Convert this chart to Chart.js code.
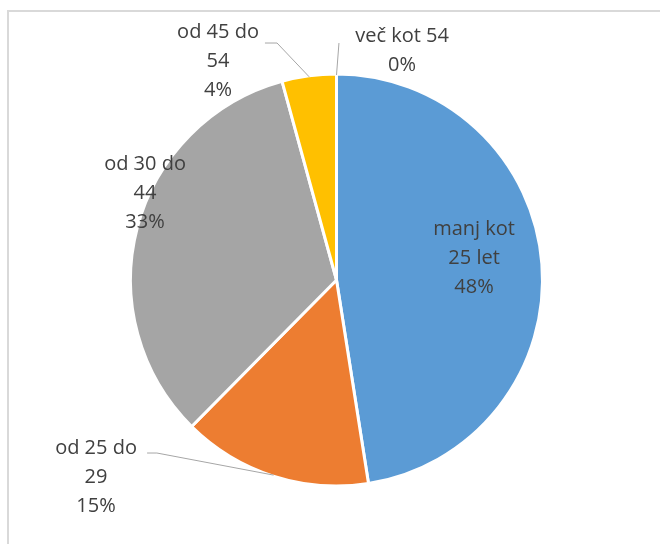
<!DOCTYPE html>
<html>
<head>
<meta charset="utf-8">
<script src="https://cdn.jsdelivr.net/npm/chart.js@4.4.0/dist/chart.umd.min.js"></script>
<style>
  html, body { margin: 0; padding: 0; background: #fff; }
  #wrap { position: relative; width: 660px; height: 544px; overflow: hidden; }
  #frame {
    position: absolute; left: 7px; top: 10px; width: 700px; height: 600px;
    border-top: 2px solid #d9d9d9; border-left: 2px solid #d9d9d9;
    pointer-events: none;
  }
  canvas { position: absolute; left: 0; top: 0; }
</style>
</head>
<body>
<div id="wrap">
  <canvas id="pie" width="660" height="544"></canvas>
  <div id="frame"></div>
</div>
<script>
// === Data ===
const CATEGORY_LINES = [
  ["manj kot", "25 let"],
  ["od 25 do", "29"],
  ["od 30 do", "44"],
  ["od 45 do", "54"],
  ["več kot 54"]
];
const CATEGORIES = CATEGORY_LINES.map((l) => l.join(" "));
const VALUES = [67, 21, 47, 6, 0];
const COLORS = ["#5b9bd5", "#ed7d31", "#a5a5a5", "#ffc000", "#4472c4"];

// label placement, in units of the pie radius, measured from the pie centre
// elbow/end describe the leader line for labels outside the pie
const LABEL_POS = [
  { lx: 0.671, ly: -0.107 },
  { lx: -1.173, ly: 0.961, elbow: [-0.876, 0.844], end: [-0.924, 0.844] },
  { lx: -0.934, ly: -0.424 },
  { lx: -0.578, ly: -1.068, elbow: [-0.290, -1.156], end: [-0.349, -1.156] },
  { lx: 0.320, ly: -1.117, elbow: [0.012, -1.156], end: [0.012, -1.156] }
];

// === Slice labels with leader lines ===
const sliceLabels = {
  id: "sliceLabels",
  afterDatasetsDraw(chart) {
    const ctx = chart.ctx;
    const arcs = chart.getDatasetMeta(0).data;
    const total = VALUES.reduce((a, b) => a + b, 0);
    ctx.save();
    ctx.font = "20px 'Open Sans'";
    ctx.textAlign = "center";
    ctx.textBaseline = "middle";
    arcs.forEach((arc, i) => {
      const { x, y, outerRadius, startAngle, endAngle } =
        arc.getProps(["x", "y", "outerRadius", "startAngle", "endAngle"], true);
      const r = outerRadius - 1;
      const mid = (startAngle + endAngle) / 2;
      const pos = LABEL_POS[i];

      if (pos.elbow) {
        ctx.strokeStyle = "#a6a6a6";
        ctx.lineWidth = 1;
        ctx.beginPath();
        ctx.moveTo(x + r * Math.cos(mid), y + r * Math.sin(mid));
        ctx.lineTo(x + pos.elbow[0] * r, y + pos.elbow[1] * r);
        ctx.lineTo(x + pos.end[0] * r, y + pos.end[1] * r);
        ctx.stroke();
      }

      const lines = CATEGORY_LINES[i].concat(Math.round((VALUES[i] / total) * 100) + "%");
      const lh = 29;
      const cx = x + pos.lx * r;
      const cy = y + pos.ly * r - ((lines.length - 1) * lh) / 2;
      ctx.fillStyle = "#404040";
      lines.forEach((t, k) => ctx.fillText(t, cx, cy + k * lh));
    });
    ctx.restore();
  }
};

// === Chart ===
new Chart(document.getElementById("pie").getContext("2d"), {
  type: "pie",
  data: {
    labels: CATEGORIES,
    datasets: [{
      data: VALUES,
      backgroundColor: COLORS,
      borderColor: "#ffffff",
      borderWidth: 3
    }]
  },
  options: {
    responsive: false,
    animation: false,
    layout: { padding: { left: 129, right: 116, top: 72, bottom: 56 } },
    plugins: {
      legend: { display: false },
      tooltip: { enabled: false }
    }
  },
  plugins: [sliceLabels]
});
</script>
</body>
</html>
